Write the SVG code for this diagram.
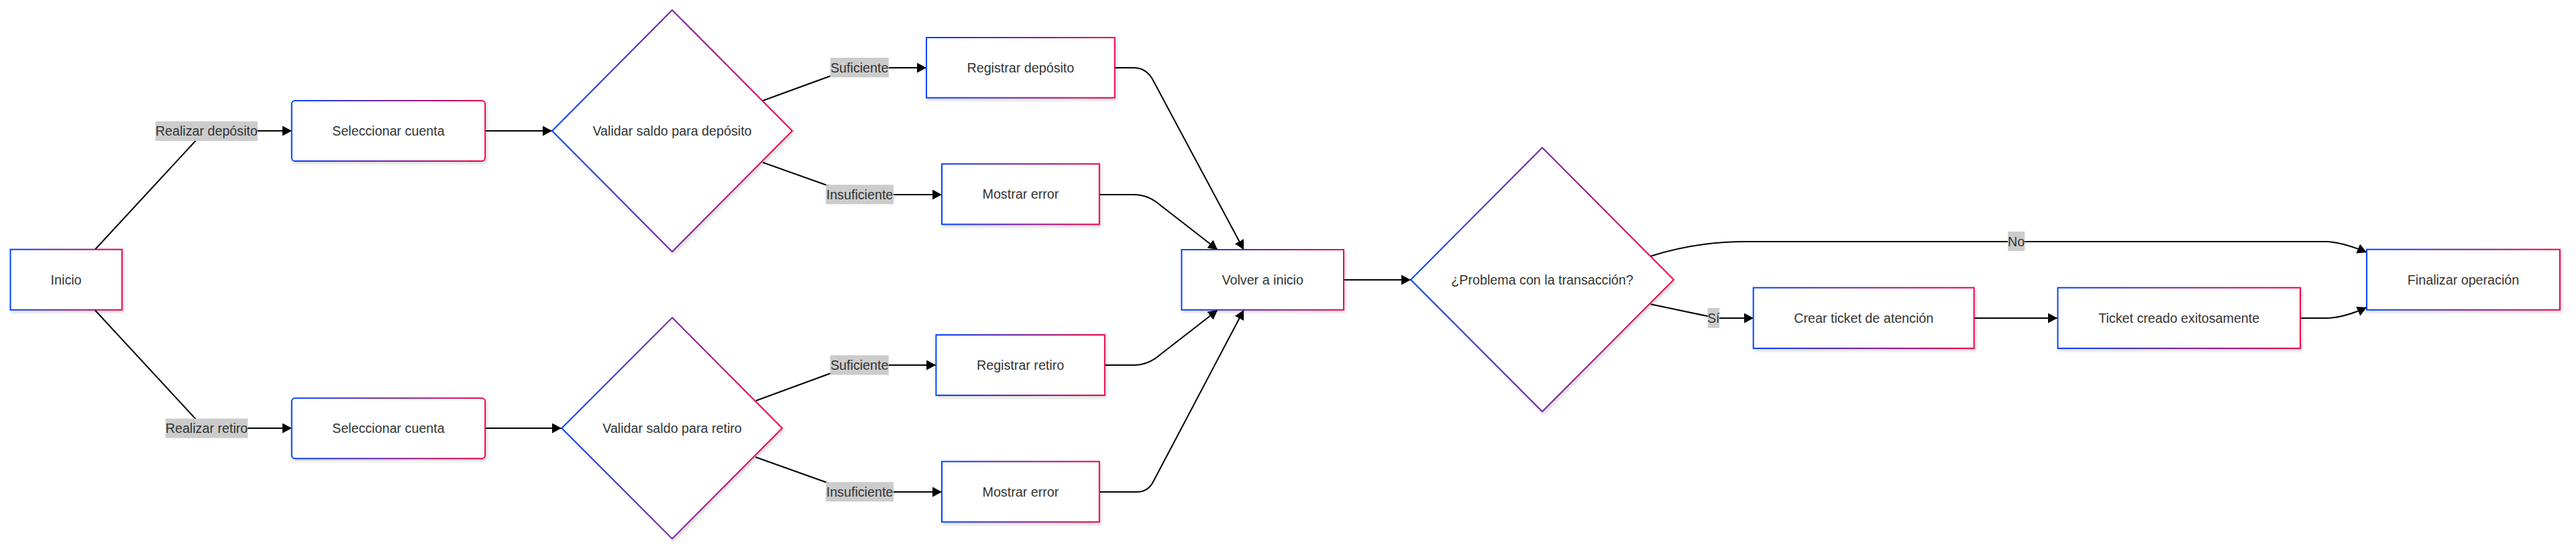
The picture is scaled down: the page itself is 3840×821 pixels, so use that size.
<svg xmlns="http://www.w3.org/2000/svg" width="3840" height="821" viewBox="0 0 3840 821">
<defs>
<linearGradient id="grad" x1="0" y1="0" x2="1" y2="0">
<stop offset="0" stop-color="#0044ff"/>
<stop offset="1" stop-color="#f00048"/>
</linearGradient>
<filter id="shadow" x="-10%" y="-10%" width="120%" height="130%">
<feDropShadow dx="2" dy="3" stdDeviation="2" flood-color="#000" flood-opacity="0.15"/>
</filter>
<marker id="arrow" viewBox="0 0 14 15" refX="14" refY="7.5" markerWidth="14" markerHeight="15" markerUnits="userSpaceOnUse" orient="auto">
<path d="M0,0 L14,7.5 L0,15 z" fill="#000"/>
</marker>
</defs>
<style>
.node rect, .node polygon { fill: #fff; stroke: url(#grad); stroke-width: 2; filter: url(#shadow); }
.node text, .label text { font-family: "Liberation Sans", Arial, sans-serif; font-size: 19.7px; fill: #333; text-anchor: middle; dominant-baseline: central; }
.edges path { fill: none; stroke: #000; stroke-width: 2; }
.label rect { fill: #cccccc; }
</style>
<rect width="3840" height="821" fill="#fff"/>
<g class="edges" id="connectors">
<path d="M141.5,372 L296,205 Q305,195 318,195 L435,195" marker-end="url(#arrow)"/>
<path d="M141.5,462 L296,629 Q305,638 318,638 L435,638" marker-end="url(#arrow)"/>
<path d="M723,195 L823,195" marker-end="url(#arrow)"/>
<path d="M723,638 L837,638" marker-end="url(#arrow)"/>
<path d="M1137,150 L1255,107 Q1265,101 1280,101 L1381,101" marker-end="url(#arrow)"/>
<path d="M1137,242 L1255,284 Q1265,290 1280,290 L1404,290" marker-end="url(#arrow)"/>
<path d="M1127,597 L1255,550 Q1265,544 1280,544 L1395,544" marker-end="url(#arrow)"/>
<path d="M1126,681 L1255,727 Q1265,733 1280,733 L1404,733" marker-end="url(#arrow)"/>
<path d="M1662,101 L1690,101 Q1708,101 1718,118 L1854,372" marker-end="url(#arrow)"/>
<path d="M1639,290 L1690,290 Q1712,290 1730,306 L1815,372" marker-end="url(#arrow)"/>
<path d="M1647,544 L1690,544 Q1712,544 1730,528 L1815,462" marker-end="url(#arrow)"/>
<path d="M1639,733 L1695,733 Q1712,733 1720,716 L1854,462" marker-end="url(#arrow)"/>
<path d="M2003,417 L2103,417" marker-end="url(#arrow)"/>
<path d="M2460.6,381.7 Q2530,360 2602,360 L3470,360 Q3495,362 3528,376" marker-end="url(#arrow)"/>
<path d="M2460.6,453.3 L2545,471 Q2552,474 2560,474 L2614,474" marker-end="url(#arrow)"/>
<path d="M2943,474 L3067,474" marker-end="url(#arrow)"/>
<path d="M3429,474 L3470,474 Q3495,473 3528,458" marker-end="url(#arrow)"/>
</g>
<g id="edge-labels">
<g class="label"><rect x="231.7" y="180.7" width="152.3" height="29.3"/><text x="307.9" y="195.3">Realizar depósito</text></g>
<g class="label"><rect x="246.7" y="623.7" width="122.7" height="29"/><text x="308" y="638.2">Realizar retiro</text></g>
<g class="label"><rect x="1237.5" y="86" width="87.3" height="29.3"/><text x="1281.2" y="100.7">Suficiente</text></g>
<g class="label"><rect x="1231" y="275.3" width="101" height="29"/><text x="1281.5" y="289.8">Insuficiente</text></g>
<g class="label"><rect x="1237.5" y="529.3" width="87.3" height="29.3"/><text x="1281.2" y="544">Suficiente</text></g>
<g class="label"><rect x="1231" y="718.3" width="101" height="29"/><text x="1281.5" y="732.8">Insuficiente</text></g>
<g class="label"><rect x="2993" y="345" width="25.2" height="29"/><text x="3005.6" y="359.5">No</text></g>
<g class="label"><rect x="2545.6" y="459" width="17.5" height="29.7"/><text x="2554.3" y="473.8">Sí</text></g>
</g>
<g class="node" id="inicio"><rect x="15.5" y="371.7" width="166.3" height="90"/><text x="98.6" y="416.7">Inicio</text></g>
<g class="node" id="sel-deposito"><rect x="434.8" y="150" width="288.4" height="90" rx="5"/><text x="579" y="195">Seleccionar cuenta</text></g>
<g class="node" id="sel-retiro"><rect x="434.8" y="593.3" width="288.4" height="90" rx="5"/><text x="579" y="638.3">Seleccionar cuenta</text></g>
<g class="node" id="val-deposito"><polygon points="1002,15 1181,195 1002,375 823,195"/><text x="1002" y="195">Validar saldo para depósito</text></g>
<g class="node" id="val-retiro"><polygon points="1002,473.3 1166,638 1002,802.7 837.4,638"/><text x="1002" y="638">Validar saldo para retiro</text></g>
<g class="node" id="reg-deposito"><rect x="1381" y="56" width="280.7" height="89.7"/><text x="1521.4" y="101">Registrar depósito</text></g>
<g class="node" id="err-deposito"><rect x="1404" y="244.3" width="234.8" height="90"/><text x="1521.4" y="289.3">Mostrar error</text></g>
<g class="node" id="reg-retiro"><rect x="1395.4" y="499" width="251.4" height="90"/><text x="1521.1" y="544">Registrar retiro</text></g>
<g class="node" id="err-retiro"><rect x="1404" y="687.7" width="234.8" height="90"/><text x="1521.4" y="732.7">Mostrar error</text></g>
<g class="node" id="volver"><rect x="1761.4" y="372" width="241.6" height="89.7"/><text x="1882.2" y="416.8">Volver a inicio</text></g>
<g class="node" id="problema"><polygon points="2299,220 2495,416.7 2299,613.3 2103,416.7"/><text x="2299" y="416.7">¿Problema con la transacción?</text></g>
<g class="node" id="crear-ticket"><rect x="2613.7" y="428.7" width="329" height="90.3"/><text x="2778.2" y="473.8">Crear ticket de atención</text></g>
<g class="node" id="ticket-creado"><rect x="3067.5" y="428.7" width="361.5" height="90.3"/><text x="3248.2" y="473.8">Ticket creado exitosamente</text></g>
<g class="node" id="finalizar"><rect x="3528" y="371.7" width="288" height="90"/><text x="3672" y="416.7">Finalizar operación</text></g>
</svg>
